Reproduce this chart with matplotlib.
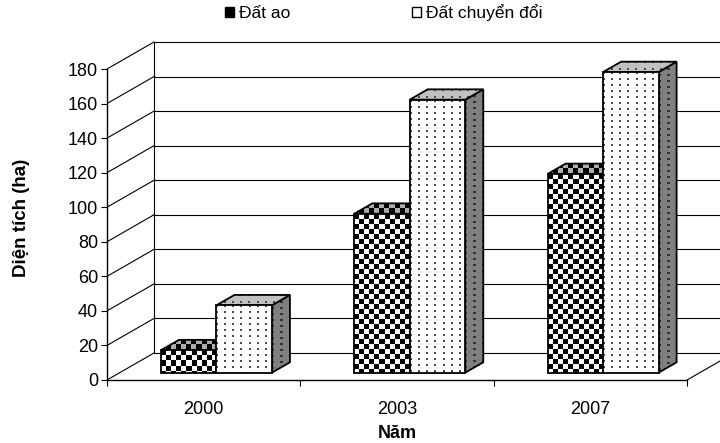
import numpy as np
import matplotlib.pyplot as plt
from matplotlib.patches import Polygon, Patch

plt.rcParams['font.family'] = ['Liberation Sans', 'DejaVu Sans']

# Données
years = ['2000', '2003', '2007']
dat_ao = [13, 92, 115]
dat_chuyen_doi = [39, 158, 174]
series_names = ['Đất ao', 'Đất chuyển đổi']
y_ticks = np.arange(0, 181, 20)

W, H, DPI = 720, 443, 100
X0, Y0 = 107, 380          # coin avant-gauche du plancher (pixels)
PX = 580 / 3               # pixels par catégorie
PY = 311 / 180             # pixels par unité
DX, DY = 47 / PX, 27 / PY  # profondeur de la boîte 3D (unités des données)
D0, DD = 0.272, 0.383      # position / profondeur des barres (fraction)
BW = 0.287                 # largeur d'une barre

fig = plt.figure(figsize=(W / DPI, H / DPI), dpi=DPI)
ax = fig.add_axes([X0 / W, 1 - Y0 / H, (W - X0) / W, Y0 / H])
ax.set_xlim(0, (W - X0) / PX)
ax.set_ylim(0, Y0 / PY)

# Murs : grille du fond et du côté gauche
n_cat = len(years)
for v in y_ticks:
    ax.plot([0, DX], [v, v + DY], color='black', lw=0.8, zorder=1)
    ax.plot([DX, n_cat + DX], [v + DY, v + DY], color='black', lw=0.8, zorder=1)
ax.plot([DX, DX], [DY, y_ticks[-1] + DY], color='black', lw=0.8, zorder=1)
ax.plot([n_cat, n_cat + DX], [0, DY], color='black', lw=0.8, zorder=1)


def texture(kind, w, h):
    yy, xx = np.mgrid[0:h, 0:w]
    img = np.ones((h, w, 3))
    if kind.startswith('check'):
        on = ((xx // 5) + (yy // 5)) % 2 == 0
        img[~on] = 0.68 if kind == 'check_top' else 1.0
        img[on] = 0.0
    else:
        bg, fg = {'dots': (1.0, 0.3), 'dots_top': (0.76, 0.3),
                  'dots_side': (0.5, 0.2)}[kind]
        img[:] = bg
        img[(xx % 8 < 2) & (yy % 6 < 2)] = fg
    return img


z = [2]


def face(verts, kind):
    verts = np.array(verts)
    xmin, ymin = verts.min(0)
    xmax, ymax = verts.max(0)
    w = max(1, int(round((xmax - xmin) * PX)))
    h = max(1, int(round((ymax - ymin) * PY)))
    poly = Polygon(verts, closed=True, fc='none', ec='black', lw=1.3, zorder=z[0] + 1)
    im = ax.imshow(texture(kind, w, h), extent=[xmin, xmax, ymin, ymax], origin='upper',
                   interpolation='nearest', aspect='auto', zorder=z[0])
    ax.add_patch(poly)
    im.set_clip_path(poly)
    z[0] += 2


def bar3d(xl, v, kinds):
    bx, by = D0 * DX, D0 * DY
    dx, dy = DD * DX, DD * DY
    x0, x1, b, t = xl + bx, xl + BW + bx, by, by + v
    face([(x1, b), (x1 + dx, b + dy), (x1 + dx, t + dy), (x1, t)], kinds[2])
    face([(x0, t), (x1, t), (x1 + dx, t + dy), (x0 + dx, t + dy)], kinds[1])
    face([(x0, b), (x1, b), (x1, t), (x0, t)], kinds[0])


for i in range(n_cat):
    c = i + 0.5
    bar3d(c - BW, dat_ao[i], ('check', 'check_top', 'dots_side'))
    bar3d(c, dat_chuyen_doi[i], ('dots', 'dots_top', 'dots_side'))

ax.set_xlim(0, (W - X0) / PX)
ax.set_ylim(0, Y0 / PY)

# Axes
for s in ['top', 'right']:
    ax.spines[s].set_visible(False)
ax.spines['left'].set_bounds(0, y_ticks[-1])
ax.spines['bottom'].set_bounds(0, n_cat)
ax.spines['left'].set_linewidth(1.0)
ax.spines['bottom'].set_linewidth(1.0)
ax.set_yticks(y_ticks)
ax.tick_params(axis='y', direction='out', length=4, width=0.8, pad=2.5, labelsize=13)
ax.set_xticks(np.arange(n_cat + 1))
ax.set_xticklabels([])
ax.set_xticks(np.arange(n_cat) + 0.5, minor=True)
ax.set_xticklabels(years, minor=True)
ax.tick_params(axis='x', which='major', direction='out', length=4, width=0.8)
ax.tick_params(axis='x', which='minor', length=0, pad=15, labelsize=13)

fig.text(22 / W, 1 - 218 / H, 'Diện tích (ha)', rotation=90, ha='center', va='center',
         fontsize=13.5, fontweight='bold')
fig.text(397 / W, 1 - 433 / H, 'Năm', ha='center', va='center', fontsize=13, fontweight='bold')

handles = [Patch(fc='black', ec='black'), Patch(fc='white', ec='black')]
fig.legend(handles, series_names, loc='center left', bbox_to_anchor=(225 / W, 1 - 13 / H),
           ncol=2, frameon=False, fontsize=12.5, handlelength=0.52, handleheight=0.52,
           handletextpad=0.3, columnspacing=7.0, borderpad=0, borderaxespad=0)

fig.savefig('out.png', dpi=DPI)
